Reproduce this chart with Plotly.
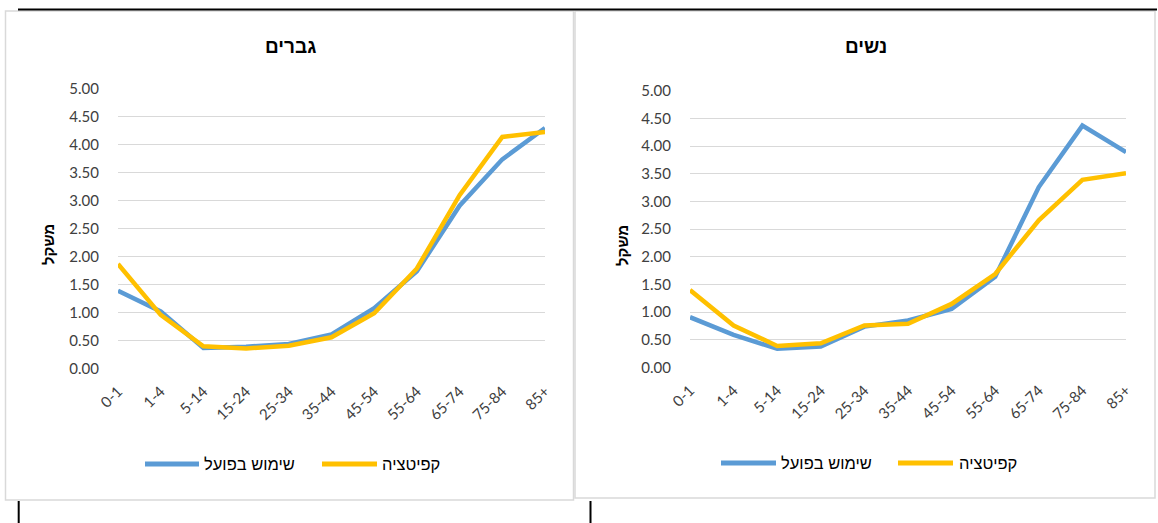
import plotly.graph_objects as go

W, H = 1158, 523

# Age groups (category axis) and weights per series
age_groups = ["0-1", "1-4", "5-14", "15-24", "25-34", "35-44",
              "45-54", "55-64", "65-74", "75-84", "85+"]
men_actual = [1.39, 1.02, 0.37, 0.39, 0.44, 0.61, 1.08, 1.74, 2.91, 3.74, 4.30]
men_capitation = [1.87, 0.96, 0.40, 0.36, 0.41, 0.56, 0.99, 1.79, 3.10, 4.14, 4.23]
women_actual = [0.91, 0.59, 0.34, 0.38, 0.74, 0.85, 1.06, 1.64, 3.26, 4.37, 3.89]
women_capitation = [1.40, 0.76, 0.39, 0.44, 0.76, 0.79, 1.15, 1.69, 2.66, 3.39, 3.51]

panel_titles = ["גברים", "נשים"]
series_names = ["שימוש בפועל", "קפיטציה"]
y_title = "משקל"
y_ticks = [0, 0.5, 1, 1.5, 2, 2.5, 3, 3.5, 4, 4.5, 5]

BLUE = "#5B9BD5"
GOLD = "#FFC000"
GRID = "#D9D9D9"
TICK_FONT = dict(family="Lato, 'Liberation Sans', sans-serif", size=15, color="#404040")
HEB_FONT = "'Liberation Sans', Arial, sans-serif"


def px(x):
    return x / W


def py(y):
    return 1 - y / H


fig = go.Figure()

panels = [
    dict(xa="x", ya="y", actual=men_actual, cap=men_capitation),
    dict(xa="x2", ya="y2", actual=women_actual, cap=women_capitation),
]
for p in panels:
    fig.add_trace(go.Scatter(x=age_groups, y=p["actual"], mode="lines",
                             line=dict(color=BLUE, width=4.5),
                             xaxis=p["xa"], yaxis=p["ya"], showlegend=False,
                             name=series_names[0]))
    fig.add_trace(go.Scatter(x=age_groups, y=p["cap"], mode="lines",
                             line=dict(color=GOLD, width=4.5),
                             xaxis=p["xa"], yaxis=p["ya"], showlegend=False,
                             name=series_names[1]))

xcommon = dict(type="category", tickangle=-45, tickfont=TICK_FONT, showgrid=False,
               showline=False, zeroline=False, ticks="outside", ticklen=7,
               tickcolor="rgba(0,0,0,0)", automargin=False)
ycommon = dict(range=[-0.002, 5.002], tickvals=y_ticks, tickformat=".2f",
               tickfont=TICK_FONT, showgrid=True, gridcolor=GRID, gridwidth=1.3,
               zeroline=False, showline=False, ticks="outside", ticklen=15,
               tickcolor="rgba(0,0,0,0)", automargin=False)

fig.update_layout(
    width=W, height=H,
    margin=dict(l=0, r=0, t=0, b=0, autoexpand=False),
    paper_bgcolor="white", plot_bgcolor="white",
    xaxis=dict(domain=[px(118), px(545)], anchor="y", **xcommon),
    yaxis=dict(domain=[py(368.7), py(88.7)], anchor="x", **ycommon),
    xaxis2=dict(domain=[px(690), px(1126)], anchor="y2", **xcommon),
    yaxis2=dict(domain=[py(367.7), py(90.6)], anchor="x2", **ycommon),
)

shapes = []
annotations = []

# chart frames and page rules
shapes.append(dict(type="rect", xref="paper", yref="paper",
                   x0=px(5.5), x1=px(573.5), y0=py(500), y1=py(11),
                   line=dict(color=GRID, width=1.5)))
shapes.append(dict(type="rect", xref="paper", yref="paper",
                   x0=px(575), x1=px(1155), y0=py(498), y1=py(11),
                   line=dict(color=GRID, width=1.5)))
shapes.append(dict(type="line", xref="paper", yref="paper",
                   x0=px(18), x1=px(1157), y0=py(9.5), y1=py(9.5),
                   line=dict(color="black", width=2)))
for xv in (18.7, 590.5):
    shapes.append(dict(type="line", xref="paper", yref="paper",
                       x0=px(xv), x1=px(xv), y0=py(501), y1=py(523),
                       line=dict(color="black", width=2)))

# titles, axis titles and legends of both panels
panel_layout = [
    dict(title_x=290, ytitle_x=48, leg=[(145, 199, 201.7), (322, 377, 380)], leg_y=464),
    dict(title_x=866, ytitle_x=622, leg=[(721, 776, 779), (898, 953, 957)], leg_y=463),
]
for title, pl in zip(panel_titles, panel_layout):
    annotations.append(dict(text=title, xref="paper", yref="paper",
                            x=px(pl["title_x"]), y=py(46), showarrow=False,
                            xanchor="center", yanchor="middle",
                            font=dict(family=HEB_FONT, size=19, color="black",
                                      weight="bold")))
    annotations.append(dict(text=y_title, xref="paper", yref="paper",
                            x=px(pl["ytitle_x"]), y=py(245), showarrow=False,
                            textangle=-90, xanchor="center", yanchor="middle",
                            font=dict(family=HEB_FONT, size=15, color="black",
                                      weight="bold")))
    for (x0, x1, tx), color, name in zip(pl["leg"], (BLUE, GOLD), series_names):
        shapes.append(dict(type="line", xref="paper", yref="paper",
                           x0=px(x0), x1=px(x1), y0=py(pl["leg_y"]), y1=py(pl["leg_y"]),
                           line=dict(color=color, width=5)))
        annotations.append(dict(text=name, xref="paper", yref="paper",
                                x=px(tx), y=py(pl["leg_y"]), showarrow=False,
                                xanchor="left", yanchor="middle",
                                font=dict(family=HEB_FONT, size=16.5, color="black")))

fig.update_layout(shapes=shapes, annotations=annotations)

# the page body carries no margin so the figure fills the window exactly
fig.write_html("out.html",
               post_script="document.body.style.margin='0';"
                           "document.body.style.overflow='hidden';")
